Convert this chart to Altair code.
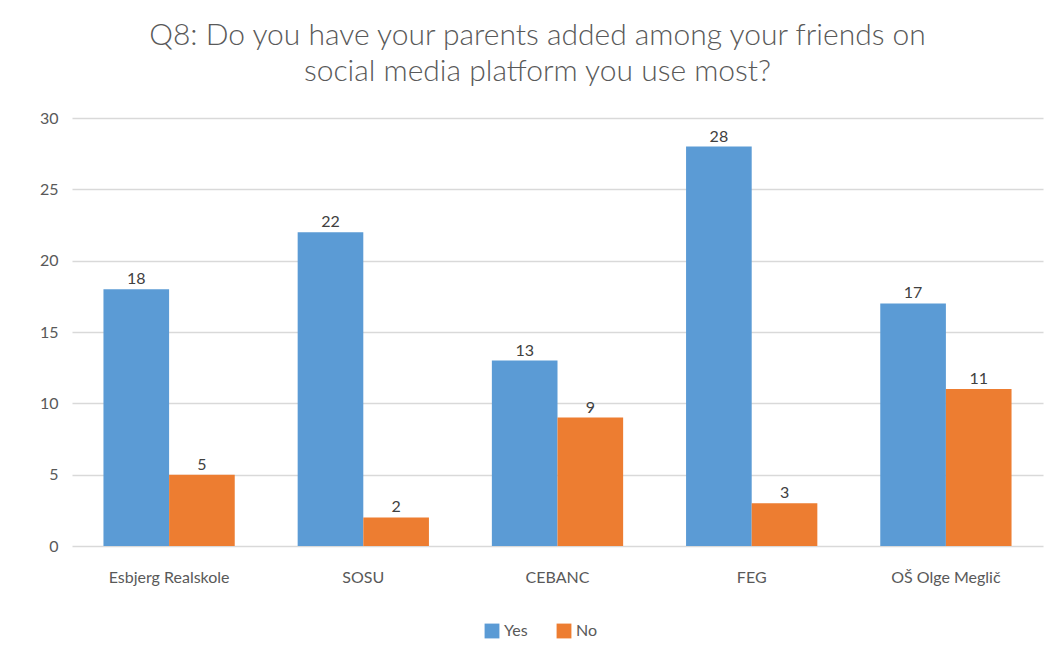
import altair as alt
import pandas as pd

schools = ["Esbjerg Realskole", "SOSU", "CEBANC", "FEG", "OŠ Olge Meglič"]
yes_values = [18, 22, 13, 28, 17]
no_values = [5, 2, 9, 3, 11]
series = ["Yes", "No"]
colors = ["#5B9BD5", "#ED7D31"]

rows = []
for s, y, n in zip(schools, yes_values, no_values):
    rows.append({"school": s, "answer": "Yes", "count": y})
    rows.append({"school": s, "answer": "No", "count": n})
df = pd.DataFrame(rows)

FONT = "Lato"
TXT = "#595959"

x = alt.X("school:N", sort=schools, title=None,
          scale=alt.Scale(paddingInner=0.324, paddingOuter=0.162),
          axis=alt.Axis(labelAngle=0, ticks=False, domain=False, grid=False, labelPadding=23,
                        labelFontSize=16, labelColor=TXT, labelFont=FONT))
xo = alt.XOffset("answer:N", sort=series, scale=alt.Scale(paddingInner=0, paddingOuter=0))
y = alt.Y("count:Q", title=None,
          scale=alt.Scale(domain=[0, 30]),
          axis=alt.Axis(values=[0, 5, 10, 15, 20, 25, 30], ticks=False, domain=False,
                        labelPadding=14, labelFontSize=16, labelColor=TXT, labelFont=FONT,
                        gridColor="#D9D9D9", gridWidth=1.5))
color = alt.Color("answer:N", sort=series,
                  scale=alt.Scale(domain=series, range=colors),
                  legend=alt.Legend(title=None, orient="none", direction="horizontal",
                                    legendX=412, legendY=505, symbolType="square",
                                    symbolSize=220, symbolStrokeWidth=0,
                                    labelFontSize=16, labelColor=TXT, labelFont=FONT,
                                    columnPadding=28, labelOffset=4))

base = alt.Chart(df).encode(x=x, xOffset=xo, y=y)
bars = base.mark_bar().encode(color=color)
labels = base.mark_text(baseline="bottom", dy=-2, fontSize=16, color="#404040", font=FONT).encode(
    text="count:Q")

chart = (bars + labels).properties(
    width=971, height=428,
    title=alt.TitleParams(
        ["Q8: Do you have your parents added among your friends on",
         "social media platform you use most?"],
        fontSize=30, font=FONT, fontWeight=300, color=TXT,
        anchor="middle", offset=23, dx=-20, lineHeight=36),
    padding={"left": 64, "top": 110, "right": 2, "bottom": 96},
    autosize=alt.AutoSizeParams(type="none"),
).configure(background="white").configure_view(stroke=None)

chart.save("out.html", embed_options={"renderer": "svg", "actions": False})
